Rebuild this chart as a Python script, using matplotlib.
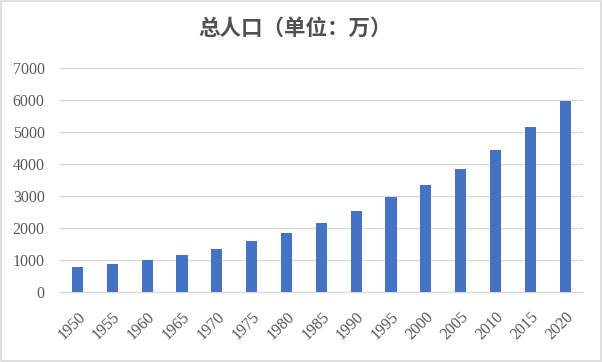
import matplotlib
matplotlib.use('Agg')
import numpy as np
from matplotlib import pyplot as plt
from matplotlib.patches import Rectangle

# years and total population (unit: 10k)
years = ['1950', '1955', '1960', '1965', '1970', '1975', '1980', '1985',
         '1990', '1995', '2000', '2005', '2010', '2015', '2020']
population = [790, 884, 1009, 1166, 1353, 1603, 1853, 2166,
              2540, 2978, 3353, 3853, 4447, 5165, 5978]
yticks = [0, 1000, 2000, 3000, 4000, 5000, 6000, 7000]

grey = '#595959'
line_grey = '#d9d9d9'

fig = plt.figure(figsize=(6.02, 3.62), dpi=100)
ax = fig.add_axes([60 / 602, 1 - 292.3 / 362, 522.7 / 602, 224 / 362])

x = np.arange(len(years))
ax.bar(x, population, width=0.32, color='#4472C4', zorder=3)

ax.set_xlim(-0.5, len(years) - 0.5)
ax.set_ylim(0, 7000)
ax.set_yticks(yticks)
ax.set_yticklabels([str(v) for v in yticks], family='Liberation Serif',
                   fontsize=11.5, color=grey)
ax.set_xticks(x)
ax.set_xticklabels(years, family='Liberation Serif', fontsize=11.5, color=grey,
                   rotation=45, ha='right', va='top', rotation_mode='anchor')

ax.tick_params(axis='both', length=0)
ax.tick_params(axis='y', pad=11)
ax.tick_params(axis='x', pad=12)
ax.grid(axis='y', color=line_grey, linewidth=0.9, zorder=0)
for s in ['top', 'right', 'left']:
    ax.spines[s].set_visible(False)
ax.spines['bottom'].set_color(line_grey)
ax.spines['bottom'].set_linewidth(0.9)

fig.text(295 / 602, 1 - 28 / 362, '总人口（单位：万）', ha='center', va='center',
         family=['Noto Sans CJK SC', 'DejaVu Sans'], fontsize=15.5,
         fontweight='bold', color='#505050')

# light border around the chart
fig.patches.append(Rectangle((0.002, 0.003), 0.996, 0.994, transform=fig.transFigure,
                             fill=False, edgecolor=line_grey, linewidth=1.2))

fig.savefig('out.png', dpi=100)
